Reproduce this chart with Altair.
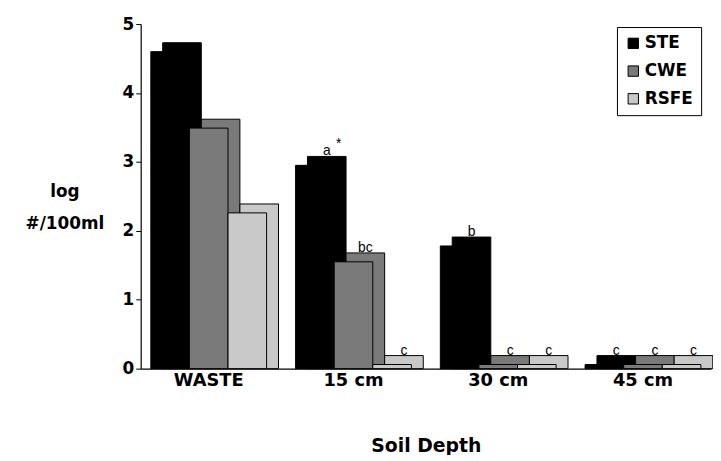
import altair as alt
import pandas as pd

categories = ["WASTE", "15 cm", "30 cm", "45 cm"]
series = ["STE", "CWE", "RSFE"]
ste = [4.6, 2.95, 1.78, 0.06]
cwe = [3.49, 1.55, 0.06, 0.06]
rsfe = [2.26, 0.06, 0.06, 0.06]
ste_lab = ["", "a", "b", "c"]
cwe_lab = ["", "bc", "c", "c"]
rsfe_lab = ["", "c", "c", "c"]
ste_star = ["", "*", "", ""]
y_ticks = [0, 1, 2, 3, 4, 5]
fills = ["#000000", "#7a7a7a", "#c9c9c9"]

rows = []
for i, c in enumerate(categories):
    for s, vals, labs, stars in [
        ("STE", ste, ste_lab, ste_star),
        ("CWE", cwe, cwe_lab, ["", "", "", ""]),
        ("RSFE", rsfe, rsfe_lab, ["", "", "", ""]),
    ]:
        rows.append(dict(depth=c, series=s, value=vals[i], label=labs[i], star=stars[i]))
df = pd.DataFrame(rows)

FONT = "DejaVu Sans"
SMALL = "Liberation Sans"
W = 576
P_IN, P_OUT = 0.2, 0.07
BW = W / (len(categories) - P_IN + 2 * P_OUT) * (1 - P_IN)
DEPTH_X, DEPTH_Y = 12, 9

x = alt.X(
    "depth:N",
    sort=categories,
    scale=alt.Scale(paddingInner=P_IN, paddingOuter=P_OUT),
    axis=alt.Axis(
        title="Soil Depth",
        labelAngle=0,
        ticks=False,
        domainColor="black",
        domainWidth=1.2,
        labelFont=FONT,
        labelFontSize=18,
        labelFontWeight="bold",
        labelColor="black",
        labelPadding=3,
        titleFont=FONT,
        titleFontSize=19,
        titleFontWeight="bold",
        titleColor="black",
        titlePadding=48,
    ),
)
xo = alt.XOffset("series:N", sort=series, scale=alt.Scale(paddingInner=0, paddingOuter=0))
xo_back = alt.XOffset(
    "series:N", sort=series,
    scale=alt.Scale(paddingInner=0, paddingOuter=0, range=[DEPTH_X, DEPTH_X + BW]),
)
y = alt.Y(
    "value:Q",
    scale=alt.Scale(domain=[0, 5], nice=False),
    axis=alt.Axis(
        values=y_ticks,
        grid=False,
        tickSize=5,
        tickColor="black",
        domainColor="black",
        domainWidth=1.2,
        labelFont=FONT,
        labelFontSize=17,
        labelFontWeight="bold",
        labelColor="black",
        labelPadding=2,
        title=["log", "#/100ml"],
        titleAngle=0,
        titleX=-77,
        titleY=169,
        titleAlign="center",
        titleBaseline="middle",
        titleLineHeight=32,
        titleFont=FONT,
        titleFontSize=17,
        titleFontWeight="bold",
        titleColor="black",
    ),
)
color_scale = alt.Scale(domain=series, range=fills)
legend = alt.Legend(
    title=None,
    orient="none",
    legendX=481,
    legendY=3,
    strokeColor="black",
    padding=8,
    symbolType="square",
    symbolSize=110,
    symbolStrokeColor="black",
    symbolStrokeWidth=1,
    labelFont=FONT,
    labelFontSize=17,
    labelFontWeight="bold",
    labelColor="black",
    rowPadding=10,
    labelOffset=3,
)
color = alt.Color("series:N", scale=color_scale, sort=series, legend=legend)

base = alt.Chart(df)

back = base.mark_bar(yOffset=-DEPTH_Y, y2Offset=0, stroke="black", strokeWidth=1).encode(
    x=x, xOffset=xo_back, y=y, y2=alt.Y2(datum=0), color=color,
)
front = alt.layer(
    base.mark_bar(stroke="black", strokeWidth=1).encode(x=x, xOffset=xo, y=y, color=color),
    base.mark_text(dx=12, dy=-14, font=SMALL, fontSize=14, color="black").encode(
        x=x, xOffset=xo, y=y, text="label:N"
    ),
    base.mark_text(dx=24, dy=-22, font=SMALL, fontSize=14, color="black").encode(
        x=x, xOffset=xo, y=y, text="star:N"
    ),
)

chart = (
    alt.layer(back, front)
    .resolve_scale(xOffset="independent")
    .properties(
        width=W,
        height=348,
        autosize=alt.AutoSizeParams(type="none"),
        padding={"left": 134, "top": 14, "right": 2, "bottom": 85},
    )
    .configure_view(stroke=None)
)

chart.save("out.html", embed_options={"renderer": "svg", "actions": False})
